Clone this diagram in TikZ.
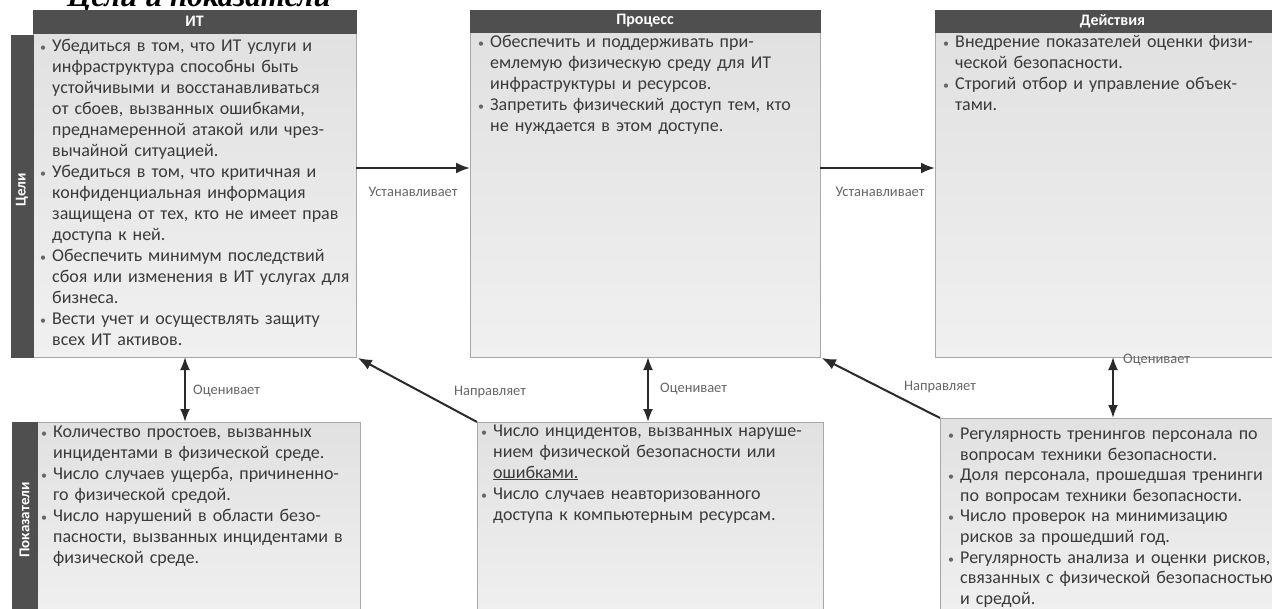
\documentclass[tikz,border=0pt]{standalone}
\usepackage{fontspec}
\setmainfont{Carlito}
\newfontfamily\titlefont{Liberation Serif}
\usetikzlibrary{arrows.meta}

\definecolor{barfill}{HTML}{4F4F4F}
\definecolor{boxtop}{HTML}{E1E1E1}
\definecolor{boxbot}{HTML}{F0F0F0}
\definecolor{boxline}{HTML}{A8A8A8}
\definecolor{bodytext}{HTML}{3A3A3A}
\definecolor{labeltext}{HTML}{666666}
\definecolor{arrowcol}{HTML}{2A2A2A}

% hanging bullet in front of a list line
\newcommand\bul{\leavevmode\llap{\textcolor{labeltext}{\fontsize{12}{12}\selectfont\textbullet}\hspace{6pt}}}

\tikzset{
  panel/.style={draw=boxline, line width=1pt, top color=boxtop, bottom color=boxbot,
                anchor=north west, inner sep=0pt, outer sep=0pt},
  headbar/.style={fill=barfill, draw=barfill, anchor=north west, inner sep=0pt, outer sep=0pt,
                  text=white, font=\bfseries\fontsize{16}{16}\selectfont},
  sidebar/.style={fill=barfill, draw=barfill, anchor=north west, inner sep=0pt, outer sep=0pt},
  sidelabel/.style={rotate=90, text=white, inner sep=0pt, font=\bfseries\fontsize{15}{15}\selectfont},
  body/.style={anchor=base west, inner sep=0pt, align=left, text width=340pt, text=bodytext,
               font=\fontsize{18}{21}\selectfont},
  linklabel/.style={inner sep=0pt, text=labeltext, font=\fontsize{14.5}{14.5}\selectfont},
  arr/.style={draw=arrowcol, line width=2.2pt, -{Latex[length=14pt,width=11pt]}},
  dbl/.style={draw=arrowcol, line width=2pt, {Latex[length=13pt,width=10pt]}-{Latex[length=13pt,width=10pt]}}
}

\begin{document}
\begin{tikzpicture}[x=1pt,y=-1pt]
\useasboundingbox (0,0) rectangle (1272,608);
\clip (0,0) rectangle (1272,608);
\fill[white] (0,0) rectangle (1272,608);

% title
\node[anchor=base west, inner sep=0pt, text=black,
      font=\titlefont\bfseries\itshape\fontsize{31}{31}\selectfont] (title) at (67,6) {Цели и показатели};

% upper row: goals
\node[panel, minimum width=323pt, minimum height=324pt] (itbox) at (33,33) {};
\node[panel, minimum width=350pt, minimum height=325pt] (procbox) at (470,32) {};
\node[panel, minimum width=355pt, minimum height=325pt] (actbox) at (935,32) {};

\node[headbar, minimum width=323pt, minimum height=23pt] (ithead) at (33,10) {ИТ};
\node[headbar, minimum width=350pt, minimum height=22pt] (prochead) at (470,10) {Процесс};
\node[headbar, minimum width=355pt, minimum height=22pt] (acthead) at (935,10) {Действия};

\node[sidebar, minimum width=22pt, minimum height=322pt] (goalbar) at (11,35) {};
\node[sidelabel] (goallabel) at (22,190) {Цели};

% lower row: indicators
\node[panel, minimum width=323pt, minimum height=200pt] (ind1) at (37,422) {};
\node[panel, minimum width=346pt, minimum height=200pt] (ind2) at (477,422) {};
\node[panel, minimum width=350pt, minimum height=204pt] (ind3) at (940,418) {};

\node[sidebar, minimum width=25pt, minimum height=200pt] (indbar) at (12,422) {};
\node[sidelabel] (indlabel) at (24.5,520) {Показатели};

% texts of the upper row
\node[body] (ittext) at (52,51.5) {%
\bul Убедиться в том, что ИТ услуги и\\
инфраструктура способны быть\\
устойчивыми и восстанавливаться\\
от сбоев, вызванных ошибками,\\
преднамеренной атакой или чрез-\\
вычайной ситуацией.\\
\bul Убедиться в том, что критичная и\\
конфиденциальная информация\\
защищена от тех, кто не имеет прав\\
доступа к ней.\\
\bul Обеспечить минимум последствий\\
сбоя или изменения в ИТ услугах для\\
бизнеса.\\
\bul Вести учет и осуществлять защиту\\
всех ИТ активов.};

\node[body] (proctext) at (490,47.5) {%
\bul Обеспечить и поддерживать при-\\
емлемую физическую среду для ИТ\\
инфраструктуры и ресурсов.\\
\bul Запретить физический доступ тем, кто\\
не нуждается в этом доступе.};

\node[body] (acttext) at (955,47.5) {%
\bul Внедрение показателей оценки физи-\\
ческой безопасности.\\
\bul Строгий отбор и управление объек-\\
тами.};

% texts of the lower row
\node[body] (ind1text) at (53,437.5) {%
\bul Количество простоев, вызванных\\
инцидентами в физической среде.\\
\bul Число случаев ущерба, причиненно-\\
го физической средой.\\
\bul Число нарушений в области безо-\\
пасности, вызванных инцидентами в\\
физической среде.};

\node[body] (ind2text) at (493,436) {%
\bul Число инцидентов, вызванных наруше-\\
нием физической безопасности или\\
\underline{ошибками.}\\
\bul Число случаев неавторизованного\\
доступа к компьютерным ресурсам.};

\node[body, font=\fontsize{18}{20.6}\selectfont] (ind3text) at (960,439.5) {%
\bul Регулярность тренингов персонала по\\
вопросам техники безопасности.\\
\bul Доля персонала, прошедшая тренинги\\
по вопросам техники безопасности.\\
\bul Число проверок на минимизацию\\
рисков за прошедший год.\\
\bul Регулярность анализа и оценки рисков,\\
связанных с физической безопасностью\\
и средой.};

% connectors
\coordinate (row) at (0,168);
\coordinate (c1) at (185,0);
\coordinate (c2) at (648,0);
\coordinate (c3) at (1113,0);

\draw[arr] (itbox.east |- row) -- (procbox.west |- row);
\draw[arr] (procbox.east |- row) -- (actbox.west |- row);
\node[linklabel] (set1) at (413,192) {Устанавливает};
\node[linklabel] (set2) at (880,192) {Устанавливает};

\draw[dbl] (itbox.south -| c1) -- (ind1.north -| c1);
\draw[dbl] (procbox.south -| c2) -- (ind2.north -| c2);
\draw[dbl] (actbox.south -| c3) -- (ind3.north -| c3);
\node[linklabel, anchor=west] (est1) at (193,391) {Оценивает};
\node[linklabel, anchor=west] (est2) at (660,389) {Оценивает};
\node[linklabel, anchor=west] (est3) at (1123,360) {Оценивает};

\draw[arr, line width=2pt, shorten >=2pt] (ind2.north west) -- (itbox.south east);
\draw[arr, line width=2pt, shorten >=2pt] (ind3.north west) -- (procbox.south east);
\node[linklabel] (dir1) at (490,392) {Направляет};
\node[linklabel] (dir2) at (940,387) {Направляет};
\end{tikzpicture}
\end{document}
